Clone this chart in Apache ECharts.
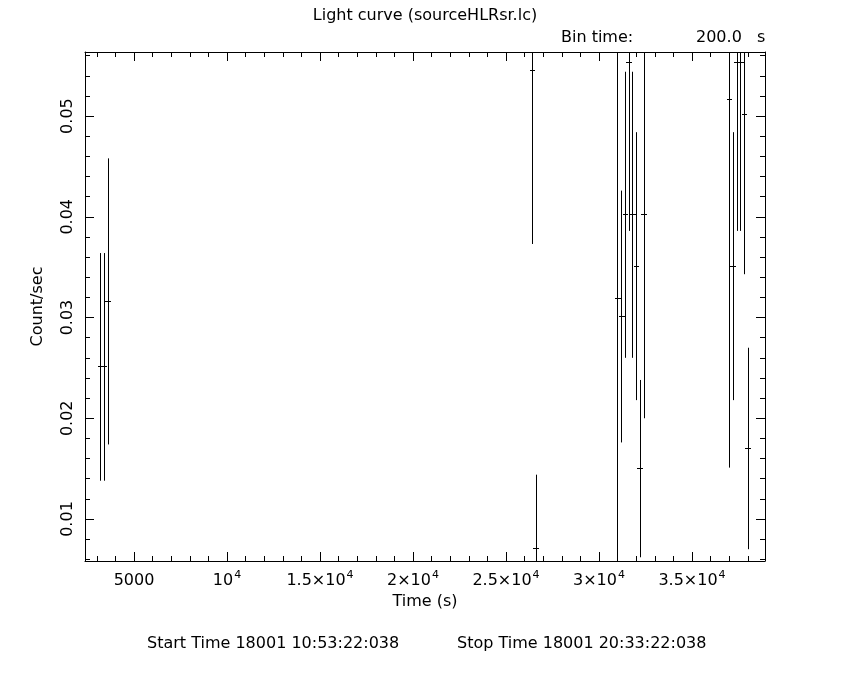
<!DOCTYPE html>
<html lang="en">
<head>
    <meta charset="UTF-8">
    <title>light-curve</title>
    <script src="https://cdn.jsdelivr.net/npm/echarts@6.0.0/dist/echarts.min.js"></script>
</head>
<body style="margin:0;background:#fff;">
<div id="main" style="width: 850px;height:680px;"></div>
<script>
    // bin centres (s), rates and 1-sigma errors
    var binTime = [3220, 3420, 3620, 26420, 26620,
        31020, 31220, 31420, 31620, 31820, 32020, 32220, 32420,
        37020, 37220, 37420, 37620, 37820, 38020];
    var rate = [0.0251, 0.0251, 0.0316, 0.0545, 0.0071,
        0.0319, 0.0301, 0.0402, 0.0553, 0.0402, 0.0351, 0.0150, 0.0402,
        0.0516, 0.0351, 0.0553, 0.0553, 0.0502, 0.0170];
    var rateErr = [0.0113, 0.0113, 0.0142, 0.0172, 0.0073,
        0.0280, 0.0125, 0.0142, 0.0167, 0.0142, 0.0133, 0.0088, 0.0202,
        0.0365, 0.0133, 0.0167, 0.0167, 0.0159, 0.0100];
    var binHalf = 100;

    var xMajor = [5000, 10000, 15000, 20000, 25000, 30000, 35000];
    var xLabels = ['5000', '10^4', '1.5×10^4', '2×10^4', '2.5×10^4', '3×10^4', '3.5×10^4'];
    var xMinor = [3000, 4000, 6000, 7000, 8000, 9000, 11000, 12000, 13000, 14000,
        16000, 17000, 18000, 19000, 21000, 22000, 23000, 24000, 26000, 27000, 28000, 29000,
        31000, 32000, 33000, 34000, 36000, 37000, 38000];
    var yMajor = [0.01, 0.02, 0.03, 0.04, 0.05];
    var yMinor = [0.006, 0.008, 0.012, 0.014, 0.016, 0.018, 0.022, 0.024, 0.026, 0.028,
        0.032, 0.034, 0.036, 0.038, 0.042, 0.044, 0.046, 0.048, 0.052, 0.054, 0.056];

    var xMin = 2366, xMax = 38925;
    var yMin = 0.00583, yMax = 0.05636;
    var FONT = 'DejaVu Sans';

    var points = [];
    for (var i = 0; i < binTime.length; i++) {
        points.push([binTime[i], rate[i], rateErr[i]]);
    }

    function xLabel(v) {
        var s = xLabels[xMajor.indexOf(v)];
        if (s.indexOf('^') < 0) return '{n|' + s + '}';
        var p = s.split('^');
        return '{n|' + p[0] + '}{s|' + p[1] + '}';
    }

    function xAx(pos, vals, len, main) {
        return {
            type: 'value', position: pos, min: xMin, max: xMax,
            splitLine: {show: false},
            axisLine: {show: main, onZero: false, lineStyle: {color: '#000', width: 1}},
            axisTick: {show: true, inside: true, length: len, customValues: vals,
                lineStyle: {color: '#000', width: 1}},
            axisLabel: {show: main && pos === 'bottom', customValues: xMajor, margin: 6,
                color: '#000', formatter: xLabel,
                rich: {
                    n: {fontFamily: FONT, fontSize: 16, color: '#000', lineHeight: 22, verticalAlign: 'bottom'},
                    s: {fontFamily: FONT, fontSize: 11, color: '#000', lineHeight: 22, verticalAlign: 'bottom',
                        padding: [0, 0, 8, 1]}
                }}
        };
    }

    function yAx(pos, vals, len, main) {
        return {
            type: 'value', position: pos, min: yMin, max: yMax,
            splitLine: {show: false},
            axisLine: {show: main, onZero: false, lineStyle: {color: '#000', width: 1}},
            axisTick: {show: true, inside: true, length: len, customValues: vals,
                lineStyle: {color: '#000', width: 1}},
            axisLabel: {show: main && pos === 'left', customValues: yMajor, margin: 9, rotate: 90,
                color: '#000', fontFamily: FONT, fontSize: 16,
                formatter: function (v) { return v.toFixed(2); }}
        };
    }

    var xAxes = [xAx('bottom', xMajor, 9, true), xAx('bottom', xMinor, 5, false),
        xAx('top', xMajor, 9, true), xAx('top', xMinor, 5, false)];
    xAxes[0].name = 'Time (s)';
    xAxes[0].nameLocation = 'middle';
    xAxes[0].nameGap = 31;
    xAxes[0].nameTextStyle = {fontFamily: FONT, fontSize: 16, color: '#000'};

    var yAxes = [yAx('left', yMajor, 9, true), yAx('left', yMinor, 5, false),
        yAx('right', yMajor, 9, true), yAx('right', yMinor, 5, false)];
    yAxes[0].name = 'Count/sec';
    yAxes[0].nameLocation = 'middle';
    yAxes[0].nameGap = 39;
    yAxes[0].nameTextStyle = {fontFamily: FONT, fontSize: 16, color: '#000'};

    // snap to pixel centres so 1px lines stay crisp and black
    function px(v) { return Math.round(v - 0.5) + 0.5; }

    var chart = echarts.init(document.getElementById('main'));
    var option = {
        backgroundColor: '#fff',
        animation: false,
        grid: {left: 85, right: 85, top: 52, bottom: 119, containLabel: false},
        xAxis: xAxes,
        yAxis: yAxes,
        graphic: [
            {type: 'text', left: 'center', top: 8,
                style: {text: 'Light curve (sourceHLRsr.lc)', font: '16px "DejaVu Sans"', fill: '#000'}},
            {type: 'text', left: 561, top: 30,
                style: {text: 'Bin time:', font: '16px "DejaVu Sans"', fill: '#000'}},
            {type: 'text', left: 696, top: 30,
                style: {text: '200.0', font: '16px "DejaVu Sans"', fill: '#000'}},
            {type: 'text', left: 757, top: 30,
                style: {text: 's', font: '16px "DejaVu Sans"', fill: '#000'}},
            {type: 'text', left: 147, top: 636,
                style: {text: 'Start Time 18001 10:53:22:038', font: '16px "DejaVu Sans"', fill: '#000'}},
            {type: 'text', left: 457, top: 636,
                style: {text: 'Stop Time 18001 20:33:22:038', font: '16px "DejaVu Sans"', fill: '#000'}}
        ],
        series: [{
            type: 'custom',
            clip: true,
            data: points,
            renderItem: function (params, api) {
                var x = api.value(0), y = api.value(1), e = api.value(2);
                var top = api.coord([x, y + e]);
                var bot = api.coord([x, y - e]);
                var l = api.coord([x - binHalf, y]);
                var r = api.coord([x + binHalf, y]);
                var cx = px(top[0]), cy = px(l[1]);
                var st = {stroke: '#000', lineWidth: 1};
                return {
                    type: 'group',
                    children: [
                        {type: 'line', shape: {x1: cx, y1: top[1], x2: cx, y2: bot[1]}, style: st},
                        {type: 'line', shape: {x1: Math.round(l[0]) - 1, y1: cy, x2: Math.round(r[0]) + 1, y2: cy}, style: st}
                    ]
                };
            }
        }]
    };
    chart.setOption(option);
</script>
</body>
</html>
